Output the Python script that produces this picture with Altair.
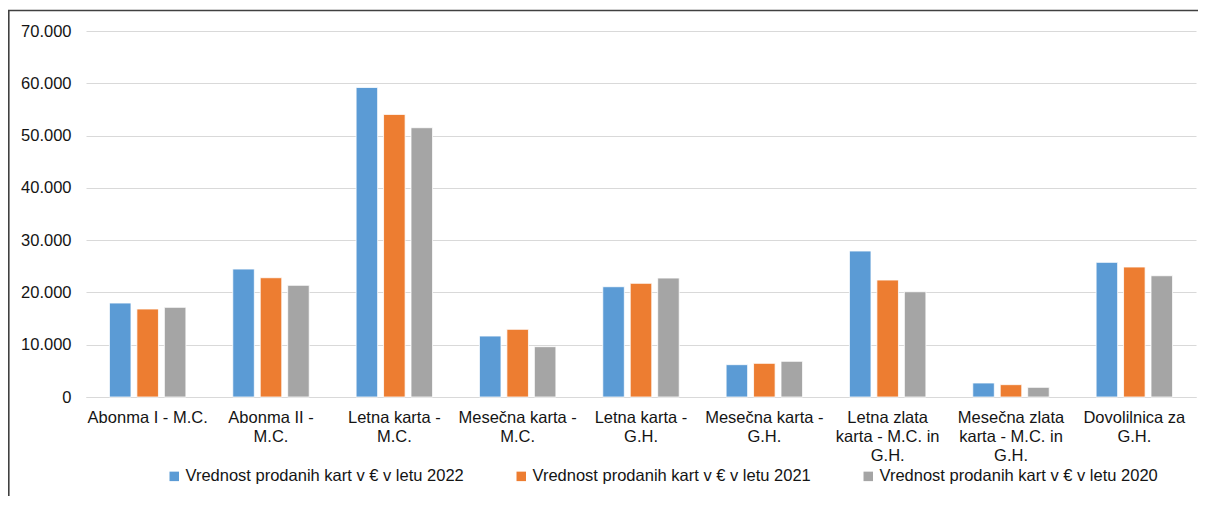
import json
import altair as alt
import pandas as pd

categories = [
    "Abonma I - M.C.",
    "Abonma II - M.C.",
    "Letna karta - M.C.",
    "Mesečna karta - M.C.",
    "Letna karta - G.H.",
    "Mesečna karta - G.H.",
    "Letna zlata karta - M.C. in G.H.",
    "Mesečna zlata karta - M.C. in G.H.",
    "Dovolilnica za G.H.",
]
label_lines = [
    ["Abonma I - M.C."],
    ["Abonma II -", "M.C."],
    ["Letna karta -", "M.C."],
    ["Mesečna karta -", "M.C."],
    ["Letna karta -", "G.H."],
    ["Mesečna karta -", "G.H."],
    ["Letna zlata", "karta - M.C. in", "G.H."],
    ["Mesečna zlata", "karta - M.C. in", "G.H."],
    ["Dovolilnica za", "G.H."],
]
series = [
    "Vrednost prodanih kart v € v letu 2022",
    "Vrednost prodanih kart v € v letu 2021",
    "Vrednost prodanih kart v € v letu 2020",
]
colors = ["#5B9BD5", "#ED7D31", "#A5A5A5"]

v2022 = [17970, 24470, 59200, 11660, 21090, 6180, 27920, 2680, 25750]
v2021 = [16830, 22810, 54050, 12940, 21740, 6440, 22370, 2360, 24860]
v2020 = [17150, 21360, 51500, 9620, 22750, 6830, 20130, 1850, 23190]
y_ticks = [0, 10000, 20000, 30000, 40000, 50000, 60000, 70000]

rows = []
for s, vals in zip(series, [v2022, v2021, v2020]):
    for c, v in zip(categories, vals):
        rows.append({"kat": c, "serija": s, "vrednost": v})
df = pd.DataFrame(rows)

label_map = "{" + ",".join(
    f"{json.dumps(c, ensure_ascii=False)}: {json.dumps(l, ensure_ascii=False)}"
    for c, l in zip(categories, label_lines)
) + "}"

FONT = "Liberation Sans"
TXT = "#141414"
FS = 16.5

bars = alt.Chart(df).mark_bar(stroke="white", strokeWidth=0.8).encode(
    x=alt.X(
        "kat:N",
        sort=categories,
        title=None,
        scale=alt.Scale(paddingInner=0.38, paddingOuter=0.19),
        axis=alt.Axis(
            labelExpr=label_map + "[datum.value]",
            labelAngle=0,
            labelAlign="center",
            labelBaseline="top",
            labelFontSize=FS,
            labelLineHeight=19,
            labelPadding=12,
            labelLimit=400,
            labelOverlap=False,
            ticks=False,
            domainColor="#D9D9D9",
            domainWidth=1,
        ),
    ),
    xOffset=alt.XOffset(
        "serija:N", sort=series, scale=alt.Scale(paddingInner=0.215, paddingOuter=0)
    ),
    y=alt.Y(
        "vrednost:Q",
        title=None,
        scale=alt.Scale(domain=[0, 70000], nice=False),
        axis=alt.Axis(
            values=y_ticks,
            labelExpr="replace(format(datum.value, ','), ',', '.')",
            grid=True,
            gridColor="#D9D9D9",
            gridWidth=1,
            domain=False,
            ticks=False,
            labelPadding=15,
            labelFontSize=FS,
        ),
    ),
    color=alt.Color(
        "serija:N",
        sort=series,
        scale=alt.Scale(domain=series, range=colors),
        legend=alt.Legend(
            title=None,
            orient="none",
            legendX=80,
            legendY=437,
            direction="horizontal",
            symbolType="square",
            symbolSize=90,
            symbolStrokeWidth=0,
            labelFontSize=FS,
            labelOffset=3,
            columnPadding=49,
            labelLimit=400,
        ),
    ),
)

frame_df = pd.DataFrame({"k": [0]})
left_line = alt.Chart(frame_df).mark_rule(color="#404040", strokeWidth=1.6).encode(
    x=alt.value(-77.2), y=alt.value(-21), y2=alt.value(480)
)
top_line = alt.Chart(frame_df).mark_rule(color="#404040", strokeWidth=1.6).encode(
    x=alt.value(-78), x2=alt.value(1130), y=alt.value(-20.5)
)

chart = alt.layer(bars, left_line, top_line).properties(
    width=1110,
    height=366,
    autosize=alt.AutoSizeParams(type="none"),
    padding={"left": 78, "top": 23, "right": 2, "bottom": 99},
).configure_view(stroke=None).configure_axis(
    labelFont=FONT, labelColor=TXT
).configure_legend(labelFont=FONT, labelColor=TXT)

chart.save("out.html", embed_options={"renderer": "svg", "actions": False})
